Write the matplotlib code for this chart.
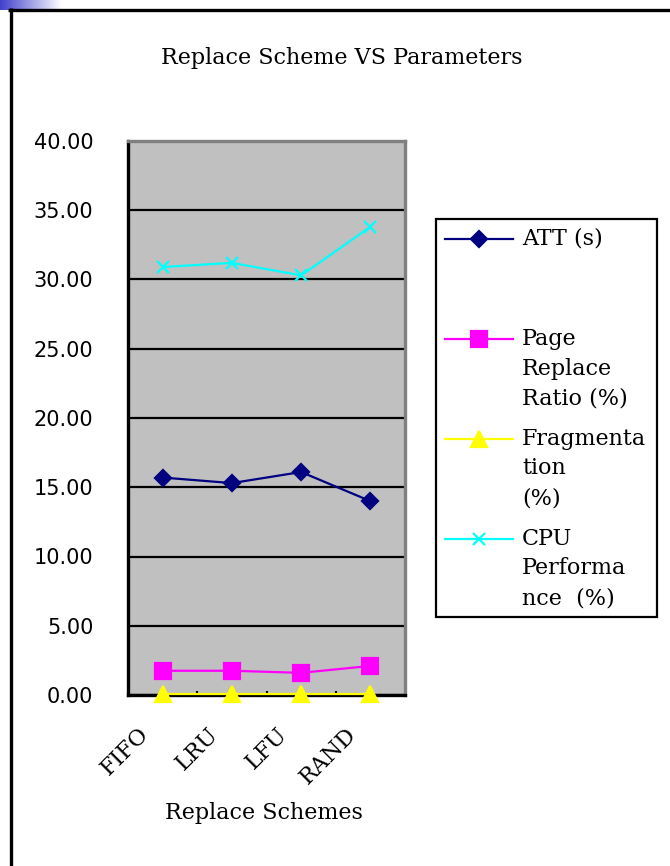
import numpy as np
import matplotlib
matplotlib.use("Agg")
import matplotlib.pyplot as plt
from matplotlib.lines import Line2D
from matplotlib.patches import Rectangle
from matplotlib.transforms import ScaledTranslation

# ---- data ----
schemes = ["FIFO", "LRU", "LFU", "RAND"]
att_s = [15.7, 15.3, 16.1, 14.0]
page_replace_pct = [1.75, 1.75, 1.6, 2.1]
fragmentation_pct = [0.1, 0.1, 0.1, 0.1]
cpu_perf_pct = [30.9, 31.2, 30.3, 33.8]
yticks = [0, 5, 10, 15, 20, 25, 30, 35, 40]

series_labels = ["ATT (s)", "Page\nReplace\nRatio (%)",
                 "Fragmenta\ntion\n(%)", "CPU\nPerforma\nnce  (%)"]
series_colors = ["#000080", "#FF00FF", "#FFFF00", "#00FFFF"]
series_markers = ["D", "s", "^", "x"]
series_ms = [8, 11, 11, 8]

W, H = 670, 866
fig = plt.figure(figsize=(W / 100, H / 100), dpi=100)
fig.patch.set_facecolor("white")


def fx(px):
    return px / W


def fy(py):
    return 1 - py / H


serif = "DejaVu Serif"

# ---- slide decoration: gradient bar + black frame ----
grad_ax = fig.add_axes([0, fy(10), fx(62), 10 / H])
grad = np.linspace(0, 1, 256)[None, :]
blue = np.array([0.25, 0.25, 0.80])
img = blue[None, None, :] * (1 - grad[..., None]) + np.ones(3)[None, None, :] * grad[..., None]
grad_ax.imshow(img, aspect="auto", extent=[0, 1, 0, 1])
grad_ax.axis("off")

fig.add_artist(Line2D([fx(8), fx(670)], [fy(9.5), fy(9.5)], color="black", lw=2.4,
                      transform=fig.transFigure, solid_capstyle="butt"))
fig.add_artist(Line2D([fx(10.5), fx(10.5)], [fy(8), fy(866)], color="black", lw=2.4,
                      transform=fig.transFigure, solid_capstyle="butt"))

# ---- plot area ----
ax = fig.add_axes([fx(128), fy(695), fx(405) - fx(128), fy(141) - fy(695)])
ax.set_facecolor("#C0C0C0")
x = np.arange(len(schemes))
series = [att_s, page_replace_pct, fragmentation_pct, cpu_perf_pct]
for vals, c, m, ms in zip(series, series_colors, series_markers, series_ms):
    ax.plot(x, vals, color=c, lw=1.6, marker=m, markersize=ms,
            markeredgecolor=c, markerfacecolor=c, markeredgewidth=1.6,
            clip_on=False, zorder=3)

ax.set_xlim(-0.5, len(schemes) - 0.5)
ax.set_ylim(0, 40)
ax.set_yticks(yticks)
ax.set_yticklabels([f"{v:.2f}" for v in yticks], fontsize=15, family="DejaVu Sans")
ax.yaxis.grid(True, color="black", lw=1.6)
ax.set_axisbelow(True)
ax.tick_params(axis="y", length=0, pad=25)

ax.set_xticks(x)
ax.set_xticks(np.arange(len(schemes) - 1) + 0.5, minor=True)
ax.tick_params(axis="x", which="major", length=0, pad=26)
ax.tick_params(axis="x", which="minor", direction="in", length=3, width=1.5, color="black")
ax.set_xticklabels(schemes, rotation=45, ha="right", va="center",
                   rotation_mode="anchor", fontsize=16, family=serif)
shift = ScaledTranslation(-17 / 100, 0, fig.dpi_scale_trans)
for lbl in ax.get_xticklabels():
    lbl.set_transform(lbl.get_transform() + shift)

for side, col in [("left", "black"), ("bottom", "black"),
                  ("top", "#808080"), ("right", "#808080")]:
    ax.spines[side].set_color(col)
    ax.spines[side].set_linewidth(2.4)

# ---- titles ----
fig.text(fx(342), fy(58), "Replace Scheme VS Parameters", ha="center", va="center",
         fontsize=16, family=serif)
fig.text(fx(264), fy(813), "Replace Schemes", ha="center", va="center",
         fontsize=16, family=serif)

# ---- legend ----
fig.add_artist(Rectangle((fx(436), fy(617)), fx(657) - fx(436), fy(219) - fy(617),
                         transform=fig.transFigure, facecolor="white",
                         edgecolor="black", lw=1.6))
entry_y = [239, 339, 439, 539]
line_gap = 29.5
for lab, c, m, ms, yy in zip(series_labels, series_colors, series_markers,
                             series_ms, entry_y):
    fig.add_artist(Line2D([fx(445), fx(513)], [fy(yy), fy(yy)], color=c, lw=1.6,
                          transform=fig.transFigure))
    fig.add_artist(Line2D([fx(479)], [fy(yy)], color=c, marker=m, markersize=ms,
                          markerfacecolor=c, markeredgecolor=c, markeredgewidth=1.6,
                          transform=fig.transFigure))
    for i, part in enumerate(lab.split("\n")):
        fig.text(fx(522), fy(yy + i * line_gap), part, ha="left", va="center",
                 fontsize=16, family=serif)

fig.savefig("out.png", dpi=100)
